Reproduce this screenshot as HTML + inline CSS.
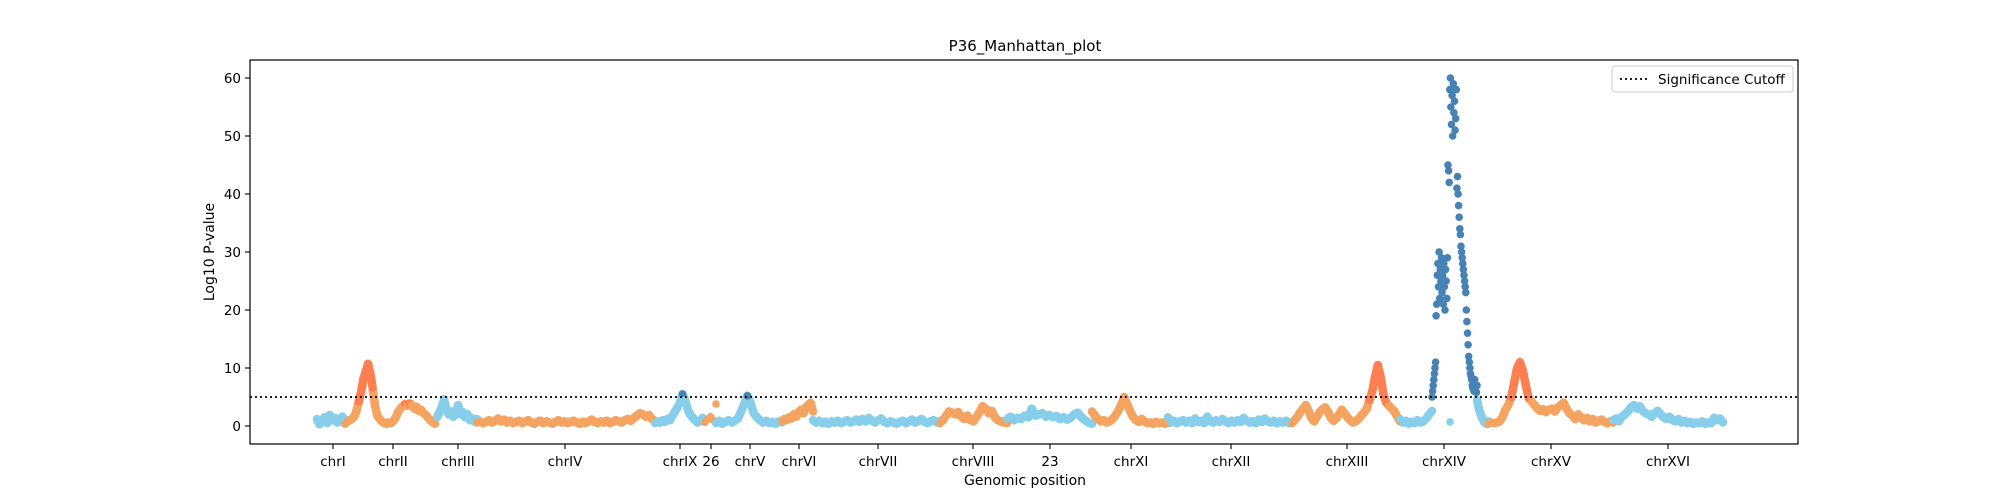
<!DOCTYPE html>
<html><head><meta charset="utf-8"><style>
html,body{margin:0;padding:0;background:#fff;width:2000px;height:500px;overflow:hidden}
svg{display:block;font-family:"DejaVu Sans","Liberation Sans",sans-serif}
</style></head><body>
<svg id="chart" width="2000" height="500" xmlns="http://www.w3.org/2000/svg">
<rect x="0" y="0" width="2000" height="500" fill="#fff"/>
<text x="1025" y="51" font-size="15" text-anchor="middle">P36_Manhattan_plot</text>
<g id="yaxis"></g>
<g id="xaxis"></g>
<g id="bands"></g>
<g id="points"></g>
<line id="cutoff" x1="250" x2="1798" stroke="#000" stroke-width="1.8" stroke-dasharray="2,3"/>
<rect x="250" y="60" width="1548" height="384" fill="none" stroke="#000" stroke-width="1.2"/>
<text transform="translate(214,252) rotate(-90)" font-size="14" text-anchor="middle">Log10 P-value</text>
<text x="1025" y="485" font-size="14" text-anchor="middle">Genomic position</text>
<g>
<rect x="1612" y="66" width="181" height="26" rx="3" fill="#fff" stroke="#ccc"/>
<line x1="1620" x2="1648" y1="79" y2="79" stroke="#000" stroke-width="1.8" stroke-dasharray="2,3"/>
<text x="1658" y="84" font-size="13.5">Significance Cutoff</text>
</g>
</svg>
<script>
const yTicks=[0,10,20,30,40,50,60];
const cutoffValue=5;
const tickLabels=["chrI","chrII","chrIII","chrIV","chrIX","26","chrV","chrVI","chrVII","chrVIII","23","chrXI","chrXII","chrXIII","chrXIV","chrXV","chrXVI"];
const tickPositions=[83,143,208,315,430,461,500,549,628,723,800,881,981,1097,1194,1301,1418];
const segStart=[67,95,187,227,405,455,466,532,563,690,757,842,918,1042,1150,1182,1227,1238,1200,1363];
const segEnd=[95,185,227,405,455,466,532,563,690,757,842,918,1042,1150,1182,1227,1240,1363,1200,1473];
const segColor=["b","o","b","o","b","o","b","o","b","o","b","o","b","o","b","b","b","o","b","b"];
const segHi=[5,3.8,5,null,5,null,5,null,5,null,5,null,5,3.8,5,4.8,5,4.3,5,5];
const segScatter=[false,false,false,false,false,true,false,false,false,false,false,false,false,false,false,true,false,false,true,false];
const segValues=[
[1.2,0.3,0.8,1.5,0.5,1.9,1.0,1.4,0.6,1.2,1.6,0.9],
[0.4,0.8,1.0,1.2,1.6,2.6,4.2,6.0,8.2,9.4,10.7,9.0,6.5,3.5,1.8,1.2,0.8,0.5,0.4,0.6,0.5,0.9,1.5,2.4,3.0,3.4,3.8,3.5,3.9,3.6,3.0,3.3,2.6,2.8,2.2,1.9,1.4,1.0,0.6,0.4],
[1.5,2.4,3.2,4.6,2.8,2.0,2.5,1.6,2.2,3.6,2.0,2.4,1.5,2.0,1.0,1.3,0.8,1.2],
[0.6,0.8,0.5,0.7,1.0,0.6,0.9,1.3,0.8,1.1,0.6,0.9,0.5,0.7,0.9,0.5,0.8,1.0,0.6,0.4,0.7,0.9,0.5,0.8,0.6,0.4,0.7,1.0,0.6,0.8,0.5,0.7,0.9,0.6,0.4,0.7,0.5,0.8,1.1,0.7,0.5,0.8,0.6,0.9,0.5,0.7,1.0,0.8,0.6,1.0,1.2,0.9,1.4,1.8,2.2,2.0,1.6,1.9,1.2,0.8],
[0.5,0.8,0.6,1.0,0.7,1.2,1.0,1.8,2.5,3.2,4.0,5.5,4.5,3.0,2.0,1.5,1.0,0.6,0.8,1.4,1.0],
[0.6,1.2,1.6,1.0,3.8],
[0.5,0.9,0.4,0.7,1.0,0.6,0.9,1.3,2.5,3.8,5.2,4.0,2.2,1.5,1.0,0.6,0.9,0.5,0.7,0.4,0.8,0.6],
[0.8,1.2,1.0,1.5,1.3,2.0,1.6,2.4,2.8,2.2,3.2,3.6,4.0,2.5],
[1.0,0.6,0.9,0.5,0.7,0.4,0.8,0.6,0.9,0.5,0.7,1.0,0.6,0.8,1.1,0.7,1.2,0.8,1.4,0.9,0.6,1.0,1.3,0.7,0.5,0.8,0.6,0.4,0.7,0.9,0.5,0.8,1.1,0.6,0.9,1.2,0.7,0.5,0.8,1.0,0.6,0.9],
[0.5,1.0,1.8,2.5,2.3,2.0,2.4,1.6,1.2,1.8,1.0,0.8,1.6,2.4,3.4,3.0,2.2,2.6,1.5,1.0,0.8,0.6,0.5],
[1.2,1.6,1.0,1.4,1.2,1.8,1.5,3.0,1.8,2.0,2.2,1.6,1.9,1.5,1.7,1.2,1.5,1.1,1.4,2.0,2.3,1.5,1.0,0.6,0.4],
[2.5,1.8,1.2,0.8,1.0,0.6,0.8,1.2,1.8,2.6,3.6,5.0,3.8,2.6,1.6,1.0,0.7,1.2,0.8,0.5,0.6,0.4,0.7,0.5,0.6,0.4,0.5],
[1.5,0.6,0.9,0.5,0.8,1.0,0.6,0.9,0.5,1.3,0.7,0.9,0.5,1.6,0.8,0.6,1.0,0.7,1.2,0.8,0.5,0.9,0.6,1.0,0.7,1.4,0.9,0.6,0.8,0.5,1.1,0.7,1.3,0.8,0.6,0.9,0.5,0.8,0.6,0.9,0.5,0.7],
[0.5,1.0,1.6,2.4,3.0,3.6,2.6,1.4,0.8,1.6,2.4,2.9,3.2,2.5,1.4,0.9,1.3,2.0,2.8,2.2,1.5,1.0,0.6,0.8,1.2,1.8,2.3,3.0,4.5,6.0,8.5,10.5,8.5,5.5,4.0,3.5,3.0,2.5,1.6,0.8],
[1.2,0.6,0.9,0.4,0.7,0.5,1.0,0.6,0.8,1.3,2.0,2.6],
[5,6,7,8,9,10,11,19,21,26,28,24,30,22,27,25,29,23,26,21,28,24,20,27,25,22,29,45,44,42,58,60,55,52,57,50,59,54,56,51,53,58,41,43,40,38,36,34,33,31,30,29,28,27,26,25,24,23,20,18,16,14,12,11,10,9,8.5,8,7,6.5,7.5,6,8,7,6,5.8,7],
[4.5,3,2,1.2,0.6,0.4,0.8,0.5],
[0.4,0.6,0.5,0.6,0.8,1.5,2.8,3.6,5.0,7.5,10.0,11,9.5,7.0,4.8,4.2,3.6,3.0,2.6,2.9,2.4,2.8,3.0,2.5,3.2,3.6,4.0,3.0,2.2,1.8,1.2,2.0,1.5,1.0,1.4,0.8,1.2,0.6,0.9,1.1,0.7,0.5,0.8,0.6],
[0.7],
[1.0,1.3,0.8,1.6,2.0,2.5,3.2,3.6,3.0,3.4,2.6,2.2,2.0,1.6,2.2,2.6,2.0,1.5,1.2,1.6,1.0,0.8,1.2,0.6,0.9,0.5,0.7,0.4,0.6,0.5,0.8,0.4,0.6,0.5,1.4,1.0,1.3,0.6]
];
const NS="http://www.w3.org/2000/svg";
const X0=250,X1=1798,XMIN=0,XMAX=1548,Y0=426,YPER=5.8;
function xs(p){return X0+(p-XMIN)*(X1-X0)/(XMAX-XMIN);}
function ys(v){return Y0-v*YPER;}
function mk(tag,attrs,parent){const e=document.createElementNS(NS,tag);for(const k in attrs)e.setAttribute(k,attrs[k]);parent.appendChild(e);return e;}
const yax=document.getElementById('yaxis');
yTicks.forEach(t=>{
  const l=mk('line',{x1:245,x2:250,y1:ys(t),y2:ys(t),stroke:'#000','stroke-width':1.1},yax);
  
  
  const tx=mk('text',{x:241,y:ys(t)+5,'font-size':13.5,'text-anchor':'end'},yax);
  tx.textContent=t;
  
  
});
const xax=document.getElementById('xaxis');
tickLabels.forEach((lab,i)=>{
  const x=xs(tickPositions[i]);
  const l=mk('line',{x1:x,x2:x,y1:444,y2:449,stroke:'#000','stroke-width':1.1},xax);
  
  
  const tx=mk('text',{x:x,y:466,'font-size':13.5,'text-anchor':'middle'},xax);
  tx.textContent=lab;
  
  
});
const cut=document.getElementById('cutoff');
cut.setAttribute('y1',ys(cutoffValue));cut.setAttribute('y2',ys(cutoffValue));
const pts=document.getElementById('points');
const bands=document.getElementById('bands');
const COL={b:'#87ceeb',o:'#f4a460'},HI={b:'#4682b4',o:'#ff7f50'};
segValues.forEach((vals,s)=>{
  const a=segStart[s],b=segEnd[s],n=vals.length;
  const isHi=v=>segHi[s]!==null&&v>=segHi[s];
  const px=i=>n>1?a+(b-a)*i/(n-1):a;
  if(!segScatter[s]){
    for(let i=0;i<n-1;i++){
      const hi=isHi(vals[i])&&isHi(vals[i+1]);
      const ln=mk('line',{x1:xs(px(i)).toFixed(1),y1:ys(vals[i]).toFixed(1),x2:xs(px(i+1)).toFixed(1),y2:ys(vals[i+1]).toFixed(1),stroke:hi?HI[segColor[s]]:COL[segColor[s]],'stroke-width':8.5,'stroke-linecap':'round'},bands);
      
      
    }
  }
  vals.forEach((v,i)=>{
    const c=mk('circle',{cx:xs(px(i)).toFixed(1),cy:ys(v).toFixed(1),r:3.8,fill:isHi(v)?HI[segColor[s]]:COL[segColor[s]]},pts);
    
    
  });
});
</script>
</body></html>
